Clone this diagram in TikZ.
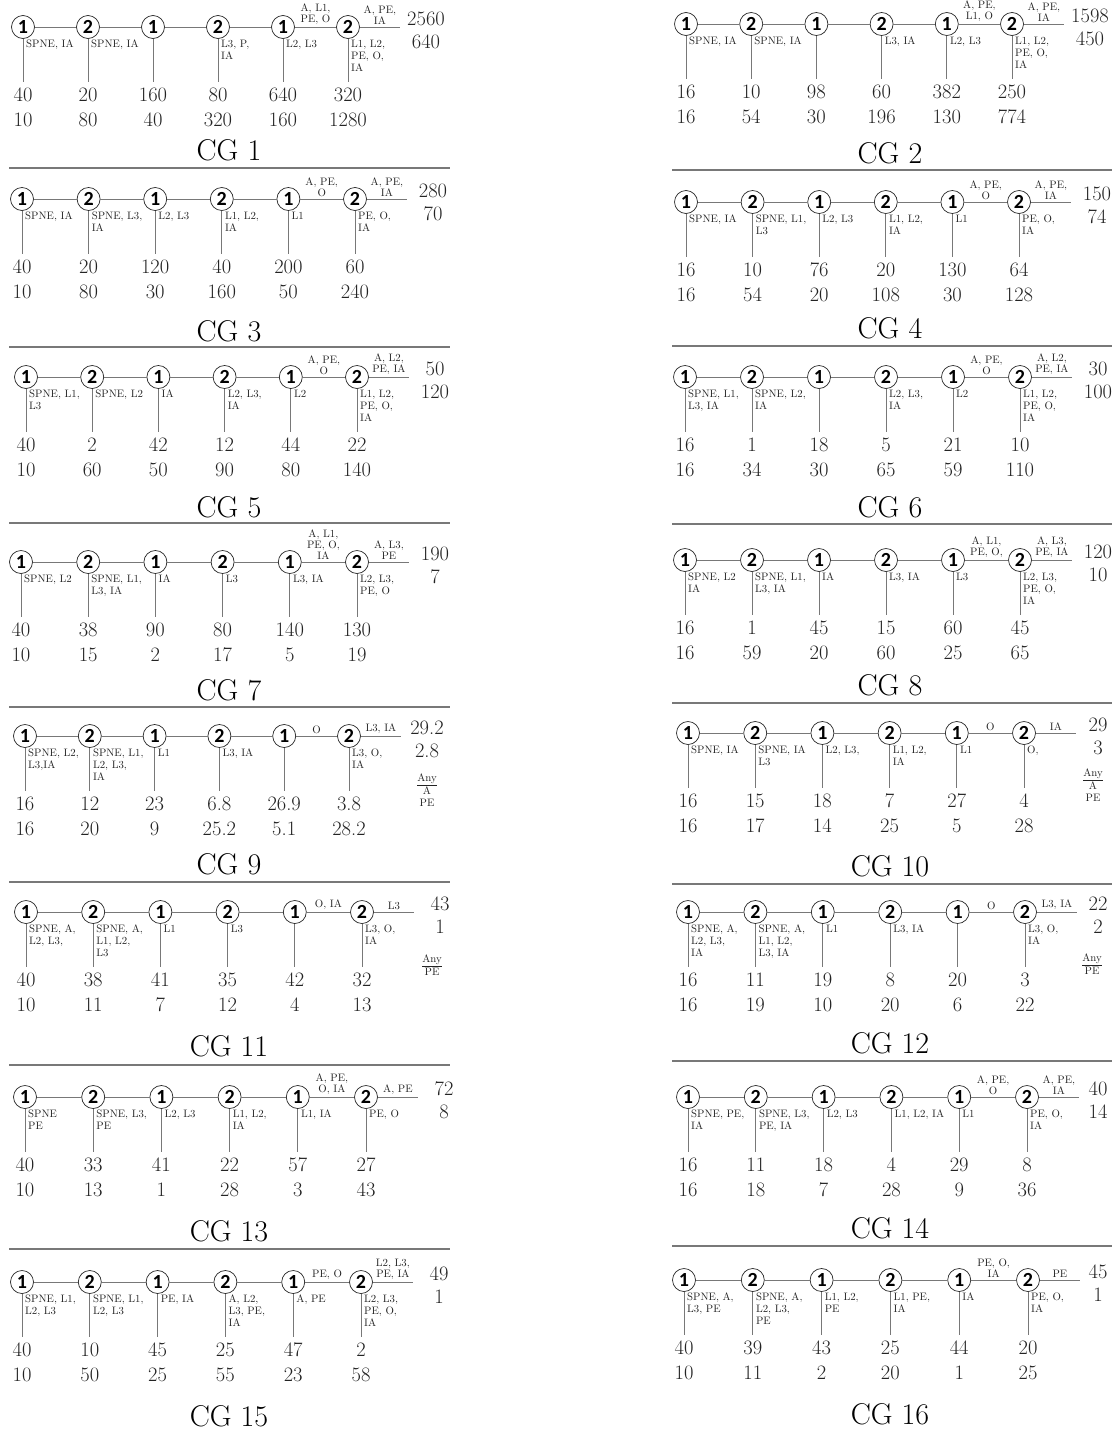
\documentclass[tikz,border=0pt]{standalone}
\usepackage{fontspec}
\newfontfamily\circfont{Carlito}
\usepackage{xcolor}
\definecolor{linea}{RGB}{120,120,120}
\definecolor{cifra}{RGB}{35,35,35}
\usepackage{tikz}
\usetikzlibrary{calc}

% one chain: prefix, first x, step, line y, drops, middle move, last move, right payoffs
\newcommand{\cgchain}[9]{%
  \foreach \lab/\up/\dn [count=\i] in {#5}{
    \pgfmathsetmacro{\xx}{#2+(\i-1)*#3}
    \pgfmathtruncatemacro{\dg}{2-mod(\i,2)}
    \node[player] (#1\i) at (\xx,#4) {\dg};
    \coordinate (#1\i d) at (\xx,#4+55);
    \draw[link] (#1\i) -- (#1\i d);
    \node[act] (#1\i a) at (\xx+3,#4+13) {\lab};
    \node[pay] (#1\i p) at (\xx,#4+68) {\up};
    \node[pay] (#1\i q) at (\xx,#4+93) {\dn};
  }
  \foreach \i [evaluate=\i as \j using int(\i+1)] in {1,...,5}
    \draw[link] (#1\i) -- (#1\j);
  \pgfmathsetmacro{\xe}{#2+5*#3+52}
  \pgfmathsetmacro{\xr}{min(#2+5*#3+78,1098)}
  \coordinate (#1e) at (\xe,#4);
  \draw[link] (#16) -- (#1e);
  \node[mv] (#1m) at ($(#15)!0.5!(#16)$) {#6};
  \node[mv] (#1n) at ($(#16.east)!0.5!(#1e)$) {#7};
  \node[pay] (#1r) at (\xr,#4-8) {#8};
  \node[pay] (#1s) at (\xr,#4+15) {#9};
}

\begin{document}
\begin{tikzpicture}[x=1pt,y=-1pt,
    player/.style={circle,draw=black!85,fill=white,line width=0.7pt,minimum size=23pt,inner sep=0pt,font=\circfont\bfseries\fontsize{20}{20}\selectfont},
    link/.style={linea,line width=0.8pt},
    act/.style={anchor=north west,inner sep=0pt,align=left,text=cifra,font=\fontsize{10.8}{12}\selectfont},
    mv/.style={anchor=south,inner sep=1pt,yshift=1pt,align=center,text=cifra,font=\fontsize{10.8}{11}\selectfont},
    pay/.style={inner sep=0pt,text=cifra,font=\fontsize{20.5}{20.5}\selectfont},
    anyplay/.style={anchor=north,inner sep=0pt,align=center,text=cifra,font=\fontsize{10.8}{12.5}\selectfont},
    cgtitle/.style={inner sep=0pt,font=\fontsize{30}{30}\selectfont},
    sepline/.style={linea,line width=1.2pt}]
  \useasboundingbox (0,0) rectangle (1114,1430);

  % left column
  \cgchain{a}{23}{65}{27}{{SPNE, IA}/40/10, {SPNE, IA}/20/80, {}/160/40, {L3, P,\\IA}/80/320, {L2, L3}/640/160, {L1, L2,\\PE, O,\\IA}/320/1280}{A, L1,\\PE, O}{A, PE,\\IA}{2560}{640}
  \cgchain{c}{22}{66.6}{199}{{SPNE, IA}/40/10, {SPNE, L3,\\IA}/20/80, {L2, L3}/120/30, {L1, L2,\\IA}/40/160, {L1}/200/50, {PE, O,\\IA}/60/240}{A, PE,\\O}{A, PE,\\IA}{280}{70}
  \cgchain{e}{26}{66.2}{377}{{SPNE, L1,\\L3}/40/10, {SPNE, L2}/2/60, {IA}/42/50, {L2, L3,\\IA}/12/90, {L2}/44/80, {L1, L2,\\PE, O,\\IA}/22/140}{A, PE,\\O}{A, L2,\\PE, IA}{50}{120}
  \cgchain{g}{21}{67.2}{562}{{SPNE, L2}/40/10, {SPNE, L1,\\L3, IA}/38/15, {IA}/90/2, {L3}/80/17, {L3, IA}/140/5, {L2, L3,\\PE, O}/130/19}{A, L1,\\PE, O,\\IA}{A, L3,\\PE}{190}{7}
  \cgchain{i}{25}{64.8}{736}{{SPNE, L2,\\L3,IA}/16/16, {SPNE, L1,\\L2, L3,\\IA}/12/20, {L1}/23/9, {L3, IA}/6.8/25.2, {}/26.9/5.1, {L3, O,\\IA}/3.8/28.2}{O}{L3, IA}{29.2}{2.8}
  \cgchain{k}{26}{67.2}{912}{{SPNE, A,\\L2, L3,}/40/10, {SPNE, A,\\L1, L2,\\L3}/38/11, {L1}/41/7, {L3}/35/12, {}/42/4, {L3, O,\\IA}/32/13}{O, IA}{L3}{43}{1}
  \cgchain{m}{25}{68.2}{1097}{{SPNE\\PE}/40/10, {SPNE, L3,\\PE}/33/13, {L2, L3}/41/1, {L1, L2,\\IA}/22/28, {L1, IA}/57/3, {PE, O}/27/43}{A, PE,\\O, IA}{A, PE}{72}{8}
  \cgchain{o}{22}{67.8}{1282}{{SPNE, L1,\\L2, L3}/40/10, {SPNE, L1,\\L2, L3}/10/50, {PE, IA}/45/25, {A, L2,\\L3, PE,\\IA}/25/55, {A, PE}/47/23, {L2, L3,\\PE, O,\\IA}/2/58}{PE, O}{L2, L3,\\PE, IA}{49}{1}

  % right column
  \cgchain{b}{686}{65.2}{24}{{SPNE, IA}/16/16, {SPNE, IA}/10/54, {}/98/30, {L3, IA}/60/196, {L2, L3}/382/130, {L1, L2,\\PE, O,\\IA}/250/774}{A, PE,\\L1, O}{A, PE,\\IA}{1598}{450}
  \cgchain{d}{686}{66.6}{202}{{SPNE, IA}/16/16, {SPNE, L1,\\L3}/10/54, {L2, L3}/76/20, {L1, L2,\\IA}/20/108, {L1}/130/30, {PE, O,\\IA}/64/128}{A, PE,\\O}{A, PE,\\IA}{150}{74}
  \cgchain{f}{685}{67}{377}{{SPNE, L1,\\L3, IA}/16/16, {SPNE, L2,\\IA}/1/34, {}/18/30, {L2, L3,\\IA}/5/65, {L2}/21/59, {L1, L2,\\PE, O,\\IA}/10/110}{A, PE,\\O}{A, L2,\\PE, IA}{30}{100}
  \cgchain{h}{685}{67}{560}{{SPNE, L2\\IA}/16/16, {SPNE, L1,\\L3, IA}/1/59, {IA}/45/20, {L3, IA}/15/60, {L3}/60/25, {L2, L3,\\PE, O,\\IA}/45/65}{A, L1,\\PE, O,}{A, L3,\\PE, IA}{120}{10}
  \cgchain{j}{688}{67.2}{733}{{SPNE, IA}/16/16, {SPNE, IA\\L3}/15/17, {L2, L3,}/18/14, {L1, L2,\\IA}/7/25, {L1}/27/5, {O,}/4/28}{O}{IA}{29}{3}
  \cgchain{l}{688}{67.4}{912}{{SPNE, A,\\L2, L3,\\IA}/16/16, {SPNE, A,\\L1, L2,\\L3, IA}/11/19, {L1}/19/10, {L3, IA}/8/20, {}/20/6, {L3, O,\\IA}/3/22}{O}{L3, IA}{22}{2}
  \cgchain{n}{688}{67.8}{1097}{{SPNE, PE,\\IA}/16/16, {SPNE, L3,\\PE, IA}/11/18, {L2, L3}/18/7, {L1, L2, IA}/4/28, {L1}/29/9, {PE, O,\\IA}/8/36}{A, PE,\\O}{A, PE,\\IA}{40}{14}
  \cgchain{p}{684}{68.8}{1280}{{SPNE, A,\\L3, PE}/40/10, {SPNE, A,\\L2, L3,\\PE}/39/11, {L1, L2,\\PE}/43/2, {L1, PE,\\IA}/25/20, {IA}/44/1, {PE, O,\\IA}/20/25}{PE, O,\\IA}{PE}{45}{1}

  % any-move notes
  \node[anyplay] (ianY) at (427,774) {\underline{Any}\\A\\PE};
  \node[anyplay] (janY) at (1093,769) {\underline{Any}\\A\\PE};
  \node[anyplay] (kanY) at (432,955) {\underline{Any}\\PE};
  \node[anyplay] (lanY) at (1092,954) {\underline{Any}\\PE};

  % titles
  \node[cgtitle] (t1) at (229,150) {CG 1};
  \node[cgtitle] (t2) at (890,153) {CG 2};
  \node[cgtitle] (t3) at (229,331) {CG 3};
  \node[cgtitle] (t4) at (890,328) {CG 4};
  \node[cgtitle] (t5) at (229,507) {CG 5};
  \node[cgtitle] (t6) at (890,507) {CG 6};
  \node[cgtitle] (t7) at (229,690) {CG 7};
  \node[cgtitle] (t8) at (890,685) {CG 8};
  \node[cgtitle] (t9) at (229,864) {CG 9};
  \node[cgtitle] (t10) at (890,866) {CG 10};
  \node[cgtitle] (t11) at (229,1046) {CG 11};
  \node[cgtitle] (t12) at (890,1043) {CG 12};
  \node[cgtitle] (t13) at (229,1231) {CG 13};
  \node[cgtitle] (t14) at (890,1228) {CG 14};
  \node[cgtitle] (t15) at (229,1416) {CG 15};
  \node[cgtitle] (t16) at (890,1414) {CG 16};

  % rules between panels
  \foreach \y in {168,347,523,707,882,1065,1249}
    \draw[sepline] (9,\y) -- (450,\y);
  \foreach \y in {170,346,524,703,884,1061,1246}
    \draw[sepline] (672,\y) -- (1112,\y);
\end{tikzpicture}
\end{document}
